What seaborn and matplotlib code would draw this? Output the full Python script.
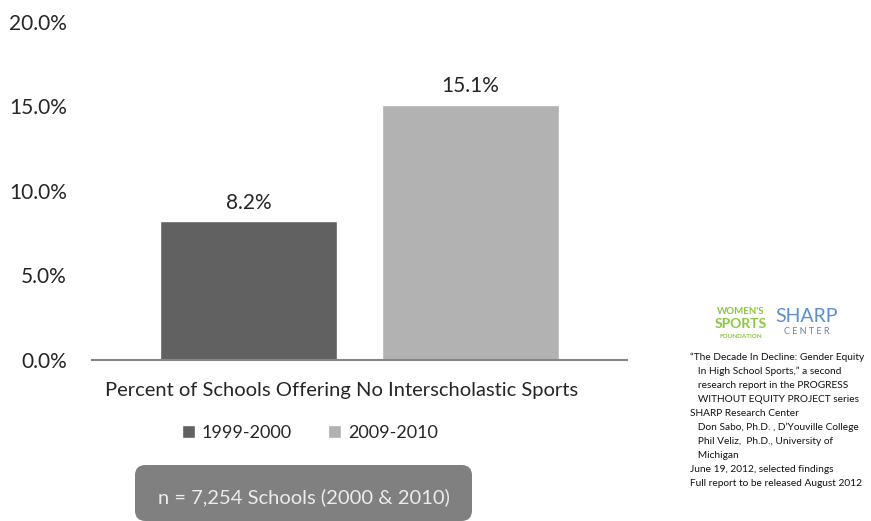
import matplotlib
matplotlib.use("Agg")
import matplotlib.pyplot as plt
from matplotlib.patches import FancyBboxPatch
from matplotlib.transforms import ScaledTranslation
import seaborn as sns
import pandas as pd

# Data
categories = ["Percent of Schools Offering No Interscholastic Sports"]
periods = ["1999-2000", "2009-2010"]
values = [8.2, 15.1]
y_ticks = [0, 5, 10, 15, 20]
bar_colors = ["#616161", "#b2b2b2"]

sample_note = "n = 7,254 Schools (2000 & 2010)"
citation_lines = [
    "\u201cThe Decade In Decline: Gender Equity",
    "   In High School Sports,\u201d a second",
    "   research report in the PROGRESS",
    "   WITHOUT EQUITY PROJECT series",
    "SHARP Research Center",
    "   Don Sabo, Ph.D. , D\u2019Youville College",
    "   Phil Veliz,  Ph.D., University of",
    "   Michigan",
    "June 19, 2012, selected findings",
    "Full report to be released August 2012",
]

df = pd.DataFrame({
    "category": categories * len(periods),
    "period": periods,
    "value": values,
})

sns.set_theme(style="white")
plt.rcParams["font.family"] = ["Lato", "DejaVu Sans"]
text_color = "#262626"

fig = plt.figure(figsize=(8.71, 5.21), dpi=100)
ax = fig.add_axes([0.1056, 0.309, 0.614, 0.649])

sns.barplot(data=df, x="category", y="value", hue="period",
            palette=bar_colors, width=0.83, gap=0.2, ax=ax,
            saturation=1, legend=True)

for container in ax.containers:
    ax.bar_label(container, fmt="%.1f%%", padding=6,
                 fontsize=15, color=text_color)

ax.set_ylim(0, 20)
ax.set_xlim(-0.5, 0.5)
ax.set_yticks(y_ticks)
ax.set_yticklabels([f"{t:.1f}%" for t in y_ticks])
ax.tick_params(axis="y", length=0, pad=18, labelsize=15, labelcolor=text_color)
ax.tick_params(axis="x", length=0, pad=16, labelsize=14.5, labelcolor=text_color)
for lbl in ax.get_xticklabels():
    lbl.set_transform(lbl.get_transform() + ScaledTranslation(-0.18, 0, fig.dpi_scale_trans))
ax.set_xlabel("")
ax.set_ylabel("")
for side in ["top", "right", "left"]:
    ax.spines[side].set_visible(False)
ax.spines["bottom"].set_color("#868686")
ax.spines["bottom"].set_linewidth(1.5)

# Legend below the category label
handles, labels = ax.get_legend_handles_labels()
ax.get_legend().remove()
fig.legend(handles, labels, loc="center", bbox_to_anchor=(310 / 871, 1 - 433 / 521),
           ncol=2, frameon=False, fontsize=13, handlelength=0.7, handleheight=0.7,
           handletextpad=0.4, columnspacing=2.0, labelcolor=text_color)

# Sample-size box
box_l, box_r, box_t, box_b = 135, 472, 465, 521
box = FancyBboxPatch((box_l / 871, 1 - box_b / 521),
                     (box_r - box_l) / 871, (box_b - box_t) / 521,
                     boxstyle="round,pad=0,rounding_size=0.012",
                     transform=fig.transFigure, facecolor="#808080",
                     edgecolor="none", mutation_aspect=871 / 521)
fig.patches.append(box)
fig.text((box_l + box_r) / 2 / 871, 1 - 497 / 521, sample_note,
         ha="center", va="center", fontsize=14.5, color="#ececec")

# Logos
fig.text(741 / 871, 1 - 311 / 521, "WOMEN'S", ha="center", va="center",
         fontsize=7, fontweight="bold", color="#8cc63f")
fig.text(741 / 871, 1 - 324 / 521, "SPORTS", ha="center", va="center",
         fontsize=10, fontweight="bold", color="#8cc63f")
fig.text(741 / 871, 1 - 336 / 521, "FOUNDATION", ha="center", va="center",
         fontsize=4.5, fontweight="bold", color="#8cc63f")
fig.text(807 / 871, 1 - 316 / 521, "SHARP", ha="center", va="center",
         fontsize=14, color="#5b8fd0")
fig.text(807 / 871, 1 - 332 / 521, "C E N T E R", ha="center", va="center",
         fontsize=6.5, color="#6d7fa3")

# Citation
for i, line in enumerate(citation_lines):
    fig.text(690 / 871, 1 - (357 + i * 14) / 521, line, ha="left", va="center",
             fontsize=7.3, color="#111111")

fig.savefig("out.png", dpi=100)
